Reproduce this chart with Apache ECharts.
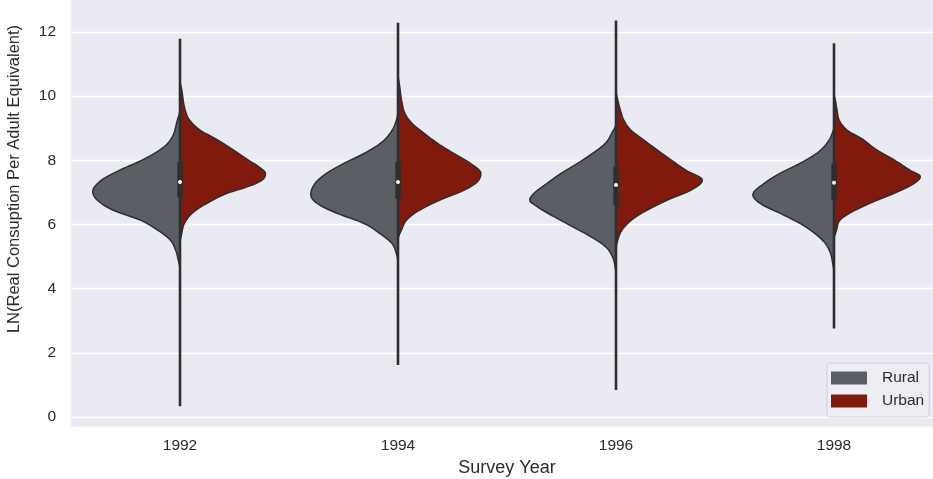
<!DOCTYPE html>
<html><head><meta charset="utf-8">
<script src="https://cdn.jsdelivr.net/npm/echarts@6/dist/echarts.min.js"></script>
<style>html,body{margin:0;padding:0;background:#fff}#c{width:933px;height:479px}</style>
</head><body><div id="c"></div>
<script>
// ---- data ----
const years = ['1992', '1994', '1996', '1998'];
// half-violin outlines: [LN value, relative density (1 = widest half)]
const rural1992 = [[9.6,0],[9.25,0.03],[8.63,0.11],[8.32,0.23],[8.01,0.43],[7.69,0.69],[7.38,0.90],[7.02,1.0],[6.76,0.95],[6.45,0.77],[6.14,0.46],[5.83,0.26],[5.51,0.11],[5.20,0.05],[4.89,0.02],[4.6,0]];
const urban1992 = [[10.5,0],[10.19,0.02],[9.56,0.06],[9.25,0.11],[8.94,0.23],[8.63,0.43],[8.32,0.61],[8.01,0.78],[7.80,0.90],[7.59,0.98],[7.38,0.94],[7.17,0.77],[6.97,0.54],[6.66,0.31],[6.35,0.14],[6.03,0.05],[5.72,0.02],[5.41,0]];
const rural1994 = [[9.56,0],[9.15,0.03],[8.84,0.09],[8.53,0.20],[8.21,0.39],[7.90,0.62],[7.59,0.82],[7.28,0.95],[6.92,1.0],[6.66,0.93],[6.35,0.70],[6.03,0.39],[5.72,0.21],[5.41,0.07],[5.10,0.02],[4.79,0]];
const urban1994 = [[10.71,0],[10.29,0.02],[9.88,0.04],[9.46,0.08],[9.15,0.16],[8.84,0.30],[8.53,0.45],[8.21,0.64],[7.90,0.83],[7.59,0.95],[7.33,0.91],[7.07,0.76],[6.76,0.48],[6.45,0.25],[6.14,0.10],[5.83,0.04],[5.51,0]];
const rural1996 = [[9.15,0],[8.84,0.05],[8.53,0.12],[8.21,0.27],[7.90,0.44],[7.59,0.63],[7.28,0.79],[6.97,0.94],[6.76,0.99],[6.55,0.90],[6.24,0.71],[5.93,0.50],[5.62,0.29],[5.31,0.12],[4.99,0.04],[4.68,0.01],[4.4,0]];
const urban1996 = [[10.19,0],[9.88,0.02],[9.56,0.05],[9.25,0.09],[8.94,0.17],[8.63,0.32],[8.32,0.47],[8.01,0.63],[7.69,0.80],[7.38,0.99],[7.07,0.86],[6.76,0.59],[6.45,0.36],[6.14,0.18],[5.83,0.07],[5.51,0.02],[5.20,0]];
const rural1998 = [[9.05,0],[8.84,0.02],[8.53,0.08],[8.21,0.20],[7.90,0.39],[7.59,0.62],[7.28,0.80],[6.92,0.93],[6.66,0.85],[6.35,0.62],[6.03,0.39],[5.72,0.22],[5.41,0.10],[5.10,0.04],[4.79,0.015],[4.48,0]];
const urban1998 = [[10.08,0],[9.88,0.015],[9.56,0.035],[9.25,0.06],[8.94,0.15],[8.63,0.34],[8.32,0.49],[8.01,0.69],[7.69,0.87],[7.49,0.99],[7.28,0.92],[6.97,0.69],[6.66,0.41],[6.35,0.18],[6.14,0.07],[5.83,0.03],[5.51,0]];
// inner box statistics
const whiskerLow  = [0.34, 1.62, 0.84, 2.76];
const boxQ1       = [6.85, 6.80, 6.60, 6.75];
const medians     = [7.32, 7.32, 7.23, 7.30];
const boxQ3       = [7.95, 7.95, 7.80, 7.90];
const whiskerHigh = [11.78, 12.28, 12.35, 11.64];
const yTicks = [0, 2, 4, 6, 8, 10, 12];

const ruralProfiles = [rural1992, rural1994, rural1996, rural1998];
const urbanProfiles = [urban1992, urban1994, urban1996, urban1998];

// ---- style ----
const FONT = 'Liberation Sans, Arial, sans-serif';
const TXT = '#2b2b2b';
const EDGE = '#2e2e2e';
const RURAL = '#5a5f66';
const URBAN = '#7f1a0c';

// monotone cubic (Fritsch-Carlson) smoothing of width as a function of pixel y
function monotone(pts) {
  const n = pts.length, xs = pts.map(p => p[0]), ys = pts.map(p => p[1]);
  const d = [], m = new Array(n);
  for (let k = 0; k < n - 1; k++) d.push((ys[k + 1] - ys[k]) / (xs[k + 1] - xs[k]));
  m[0] = 0; m[n - 1] = 0;
  for (let k = 1; k < n - 1; k++) m[k] = (d[k - 1] * d[k] <= 0) ? 0 : (d[k - 1] + d[k]) / 2;
  for (let k = 0; k < n - 1; k++) {
    if (d[k] === 0) { m[k] = 0; m[k + 1] = 0; continue; }
    const a = m[k] / d[k], b = m[k + 1] / d[k], s = a * a + b * b;
    if (s > 9) { const t = 3 / Math.sqrt(s); m[k] = t * a * d[k]; m[k + 1] = t * b * d[k]; }
  }
  const out = [];
  for (let k = 0; k < n - 1; k++) {
    const h = xs[k + 1] - xs[k];
    const steps = Math.max(2, Math.ceil(Math.abs(h)));
    for (let s = 0; s < steps; s++) {
      const t = s / steps, t2 = t * t, t3 = t2 * t;
      const h00 = 2 * t3 - 3 * t2 + 1, h10 = t3 - 2 * t2 + t, h01 = -2 * t3 + 3 * t2, h11 = t3 - t2;
      out.push([xs[k] + t * h, h00 * ys[k] + h10 * h * m[k] + h01 * ys[k + 1] + h11 * h * m[k + 1]]);
    }
  }
  out.push([xs[n - 1], ys[n - 1]]);
  return out;
}

function violinRenderer(profiles, side, color) {
  return function (params, api) {
    const i = api.value(0);
    const half = api.size([1, 0])[0] * 0.4;
    const cx = api.coord([i, 0])[0];
    const pts = profiles[i].map(p => [api.coord([i, p[0]])[1], p[1] * half]).sort((a, b) => a[0] - b[0]);
    const dense = monotone(pts);
    const poly = dense.map(([py, w]) => [cx + side * Math.max(0, w), py]);
    poly.unshift([cx, dense[0][0]]);
    poly.push([cx, dense[dense.length - 1][0]]);
    return {
      type: 'polygon',
      shape: { points: poly },
      style: { fill: color, stroke: EDGE, lineWidth: 1.5, lineJoin: 'round' }
    };
  };
}

const chart = echarts.init(document.getElementById('c'), null, { renderer: 'canvas' });
const idx = years.map((y, i) => [i, medians[i]]);
const boxData = years.map((y, i) => [i, whiskerLow[i], boxQ1[i], medians[i], boxQ3[i], whiskerHigh[i]]);

chart.setOption({
  animation: false,
  backgroundColor: '#ffffff',
  grid: { left: 71, top: -69, width: 872, height: 496, outerBoundsMode: 'none', containLabel: false,
          show: true, backgroundColor: '#eaeaf2', borderWidth: 0 },
  legend: {
    data: ['Rural', 'Urban'],
    orient: 'vertical',
    left: 827, top: 363,
    itemWidth: 36, itemHeight: 13, itemGap: 7,
    icon: 'rect',
    padding: [7, 5, 8, 4],
    backgroundColor: '#edeef3',
    borderColor: '#cfcfd4', borderWidth: 1, borderRadius: 3,
    textStyle: { fontFamily: FONT, fontSize: 15.5, color: TXT, lineHeight: 16, padding: [0, 0, 0, 10] }
  },
  xAxis: {
    type: 'category',
    data: years,
    boundaryGap: true,
    name: 'Survey Year',
    nameLocation: 'middle',
    nameGap: 32,
    nameTextStyle: { fontFamily: FONT, fontSize: 18, color: TXT },
    axisLine: { show: false }, axisTick: { show: false },
    axisLabel: { fontFamily: FONT, fontSize: 15.5, color: TXT, margin: 11 },
    splitLine: { show: false }
  },
  yAxis: {
    type: 'value',
    min: -0.31, max: 15.14,
    minInterval: 2, maxInterval: 2,
    name: 'LN(Real Consuption Per Adult Equivalent)',
    nameLocation: 'middle',
    nameGap: 48,
    nameTextStyle: { fontFamily: FONT, fontSize: 16.5, color: TXT },
    axisLine: { show: false }, axisTick: { show: false },
    axisLabel: {
      fontFamily: FONT, fontSize: 15.5, color: TXT, margin: 15,
      formatter: v => (yTicks.some(t => Math.abs(t - v) < 1e-6) ? String(Math.round(v)) : '')
    },
    splitLine: { show: true, lineStyle: { color: '#ffffff', width: 1.3 } }
  },
  series: [
    { name: 'Rural', type: 'custom', data: idx, itemStyle: { color: RURAL }, renderItem: violinRenderer(ruralProfiles, -1, RURAL), z: 2 },
    { name: 'Urban', type: 'custom', data: idx, itemStyle: { color: URBAN }, renderItem: violinRenderer(urbanProfiles, 1, URBAN), z: 2 },
    {
      name: 'box', type: 'custom', data: boxData, z: 3,
      renderItem: function (params, api) {
        const i = api.value(0);
        const cx = api.coord([i, 0])[0];
        const yLo = api.coord([i, api.value(1)])[1];
        const yQ1 = api.coord([i, api.value(2)])[1];
        const yMd = api.coord([i, api.value(3)])[1];
        const yQ3 = api.coord([i, api.value(4)])[1];
        const yHi = api.coord([i, api.value(5)])[1];
        return {
          type: 'group',
          children: [
            { type: 'line', shape: { x1: cx, y1: yLo, x2: cx, y2: yHi }, style: { stroke: EDGE, lineWidth: 2.6 } },
            { type: 'line', shape: { x1: cx, y1: yQ1, x2: cx, y2: yQ3 }, style: { stroke: EDGE, lineWidth: 5.5 } },
            { type: 'circle', shape: { cx: cx, cy: yMd, r: 2 }, style: { fill: '#ffffff' } }
          ]
        };
      }
    }
  ]
});
</script>
</body></html>
